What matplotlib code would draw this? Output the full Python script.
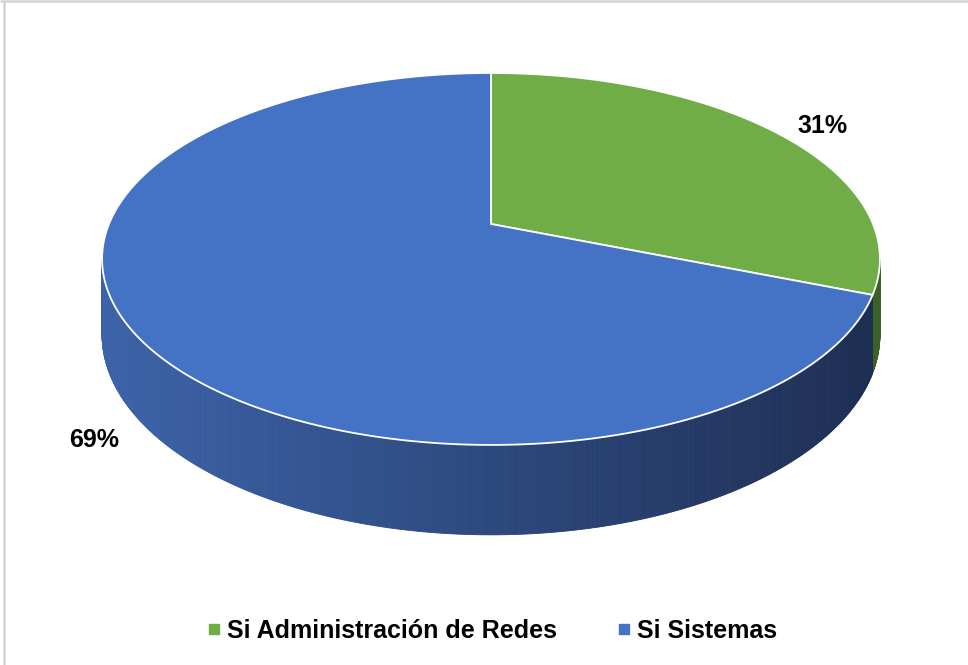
import numpy as np
import matplotlib.pyplot as plt
from matplotlib.patches import Polygon
from matplotlib.lines import Line2D
from matplotlib.colors import to_rgb

# Daten
labels = ['Si Administración de Redes', 'Si Sistemas']
values = [31, 69]
colors = ['#70AD47', '#4472C4']
side_left = ['#5a8f38', '#3d64ab']
side_right = ['#3a5e24', '#1b2a4c']

# Geometrie (Pixel)
W, H = 968, 665
cx, cy = 491, 224
A, B = 382, 179.4
k = 0.188
D = 73


def proj(t, r=1.0):
    s, c = np.sin(t), np.cos(t)
    w = 1.0 / (1.0 + k * c)
    return cx + A * r * s * w, cy - B * r * c * w, w


def mix(c1, c2, f):
    a, b = np.array(to_rgb(c1)), np.array(to_rgb(c2))
    return tuple(a + (b - a) * f)


fig = plt.figure(figsize=(W / 100, H / 100), dpi=100)
ax = fig.add_axes([0, 0, 1, 1])
ax.set_xlim(0, W)
ax.set_ylim(H, 0)
ax.axis('off')

fracs = np.array(values) / sum(values)
bounds = np.concatenate([[0], np.cumsum(fracs)]) * 2 * np.pi

# sichtbarer Bereich der Seitenwand
t_lo = np.arccos(-k)
t_hi = 2 * np.pi - t_lo

# Seitenwand
for i in range(len(values)):
    a0, a1 = max(bounds[i], t_lo), min(bounds[i + 1], t_hi)
    if a1 <= a0:
        continue
    ts = np.linspace(a0, a1, int((a1 - a0) * 180) + 2)
    for j in range(len(ts) - 1):
        x0, y0, w0 = proj(ts[j])
        x1, y1, w1 = proj(ts[j + 1])
        f = np.clip((x0 + x1) / 2 / W * 1.15 - 0.1, 0, 1)
        col = mix(side_left[i], side_right[i], f)
        ax.add_patch(Polygon([(x0, y0), (x1, y1), (x1, y1 + D * w1), (x0, y0 + D * w0)],
                             closed=True, facecolor=col, edgecolor=col, lw=0.6))

# Oberseite
for i in range(len(values)):
    ts = np.linspace(bounds[i], bounds[i + 1], 300)
    xs, ys, _ = proj(ts)
    pts = [(cx, cy)] + list(zip(xs, ys))
    ax.add_patch(Polygon(pts, closed=True, facecolor=colors[i],
                         edgecolor='white', lw=1.3, joinstyle='round'))

# Prozent-Beschriftung
for i in range(len(values)):
    tm = (bounds[i] + bounds[i + 1]) / 2
    x, y, w = proj(tm, 1.14)
    if np.cos(tm) < 0:
        y += D * w
    ax.text(x + 6, y + 6, f'{values[i]}%', ha='center', va='center',
            fontsize=18, fontweight='bold', family=['Liberation Sans', 'DejaVu Sans'])

# Legende
handles = [Line2D([], [], marker='s', ls='', color=c, markersize=7) for c in colors]
fig.legend(handles, labels, loc='lower center', bbox_to_anchor=(0.507, 0.0), ncol=2,
           frameon=False, handletextpad=0.1, columnspacing=2.3, handlelength=0.8,
           prop={'family': ['Liberation Sans', 'DejaVu Sans'], 'weight': 'bold', 'size': 18})

# Rahmen (nur oben und links sichtbar)
ax.plot([4, 4], [0, H], color='#d4d4d4', lw=1.8, solid_capstyle='butt', clip_on=False)
ax.plot([0, W], [1.2, 1.2], color='#d4d4d4', lw=1.8, solid_capstyle='butt', clip_on=False)

fig.savefig('out.png', dpi=100)
